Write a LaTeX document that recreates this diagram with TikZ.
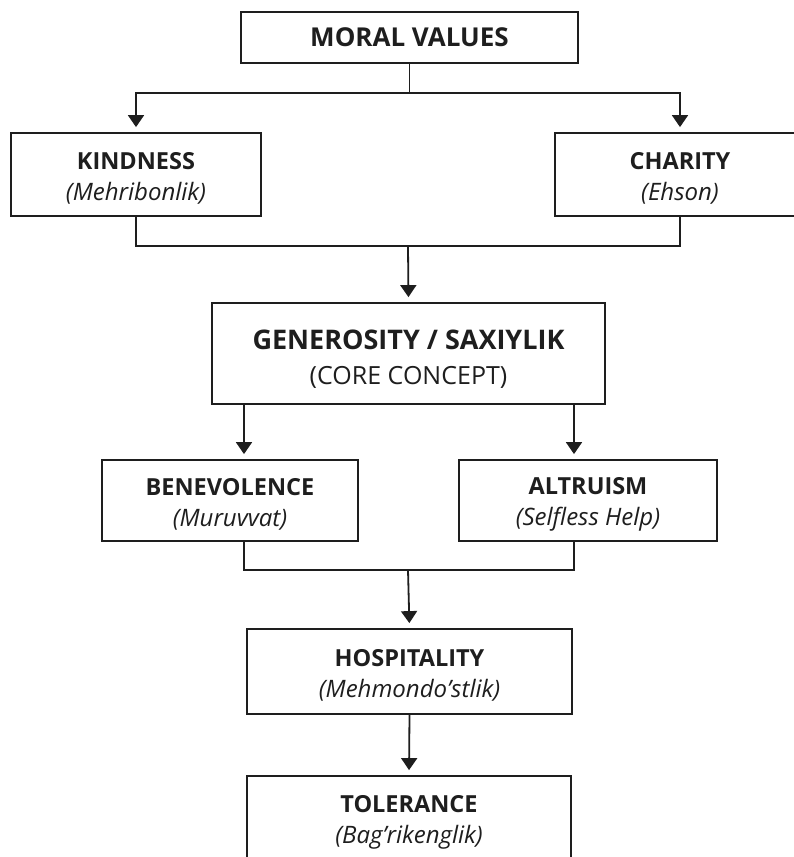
\documentclass[tikz,border=0pt]{standalone}
\usepackage{fontspec}
\setmainfont{Open Sans}
\usetikzlibrary{arrows.meta,calc}
\definecolor{ink}{HTML}{1E1E1E}
\newcommand\hdline[1]{{\fontsize{23.5}{31}\selectfont\bfseries\rule{0pt}{25pt}#1}}
\newcommand\subline[1]{{\fontsize{24}{31}\selectfont\itshape #1}}
\begin{document}
\begin{tikzpicture}[x=1pt,y=-1pt,
  box/.style={draw=ink, line width=1.8pt, rectangle, inner sep=0pt, align=center, text=ink,
              font=\fontsize{24}{31}\selectfont},
  conn/.style={draw=ink, line width=1.8pt},
  arr/.style={conn, -{Triangle[width=16pt,length=12pt]}, shorten >=5pt}]
\clip (0,0) rectangle (794,857);
\fill[white] (0,0) rectangle (794,857);

\node[box, minimum width=337pt, minimum height=51pt, font=\fontsize{26}{30}\selectfont\bfseries] (mv) at (409.5,37.5) {MORAL VALUES};
\node[box, minimum width=250pt, minimum height=83pt] (kind) at (136,174.5) {\hdline{KINDNESS}\\\subline{(Mehribonlik)}};
\node[box, minimum width=250pt, minimum height=83pt] (char) at (680,174.5) {\hdline{CHARITY}\\\subline{(Ehson)}};
\node[box, minimum width=393pt, minimum height=101pt, font=\fontsize{25}{35}\selectfont] (gen) at (408.5,353.5) {{\fontsize{27}{35}\selectfont\bfseries\rule{0pt}{30pt}GENEROSITY / SAXIYLIK}\\(CORE CONCEPT)};
\node[box, minimum width=256pt, minimum height=81pt] (ben) at (230,500.5) {\hdline{BENEVOLENCE}\\\subline{(Muruvvat)}};
\node[box, minimum width=258pt, minimum height=81pt] (alt) at (588,500.5) {\hdline{ALTRUISM}\\\subline{(Selfless Help)}};
\node[box, minimum width=325pt, minimum height=85pt] (hosp) at (409.5,671.5) {\hdline{HOSPITALITY}\\\subline{(Mehmondo’stlik)}};
\node[box, minimum width=324pt, minimum height=85pt] (tol) at (409,818.5) {\hdline{TOLERANCE}\\\subline{(Bag’rikenglik)}};

\coordinate (j1) at (408,93);
\coordinate (j2) at (408,246);
\coordinate (j3) at (408,570);

\draw[conn] (mv.south) -- (mv.south |- j1);
\draw[arr] (j1) -| (kind.north);
\draw[arr] (j1) -| (char.north);
\draw[conn] (kind.south) |- (j2) -| (char.south);
\draw[arr] (j2) -- (gen.north);
\draw[arr] ([xshift=-164.5pt]gen.south) -- ([xshift=-164.5pt]gen.south |- ben.north);
\draw[arr] ([xshift=165.5pt]gen.south) -- ([xshift=165.5pt]gen.south |- alt.north);
\draw[conn] ([xshift=14pt]ben.south) |- (j3) -| ([xshift=-14pt]alt.south);
\draw[arr] (j3) -- (hosp.north);
\draw[arr] (hosp.south) -- (tol.north);
\end{tikzpicture}
\end{document}
